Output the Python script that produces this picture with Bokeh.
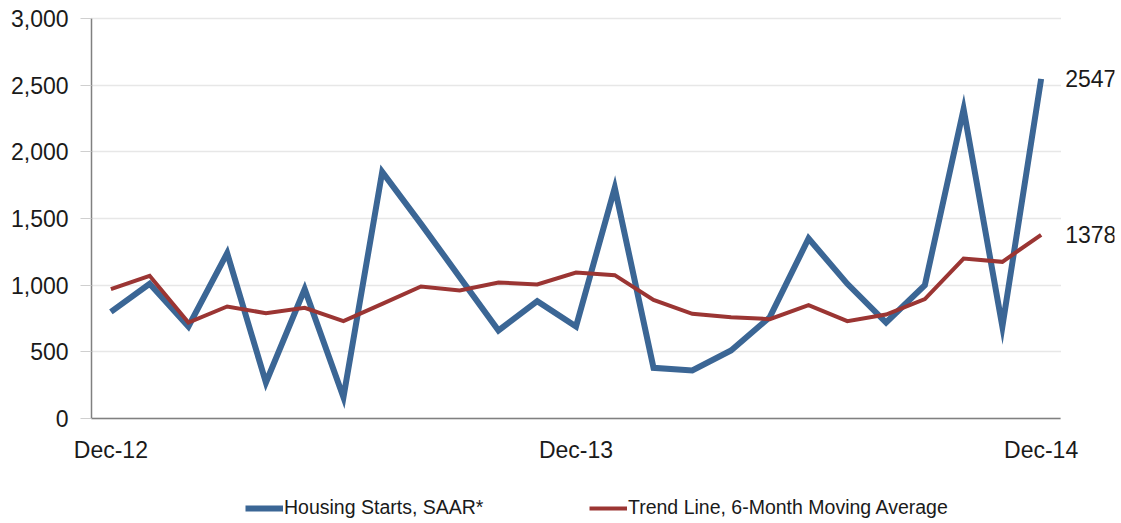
from bokeh.plotting import figure
from bokeh.models import (ColumnDataSource, FixedTicker, Legend, LegendItem, Label,
                          Range1d, NumeralTickFormatter, LinearAxis, Grid)
from bokeh.embed import file_html
from bokeh.resources import INLINE

months = ["Dec-12", "Jan-13", "Feb-13", "Mar-13", "Apr-13", "May-13", "Jun-13", "Jul-13",
          "Aug-13", "Sep-13", "Oct-13", "Nov-13", "Dec-13", "Jan-14", "Feb-14", "Mar-14",
          "Apr-14", "May-14", "Jun-14", "Jul-14", "Aug-14", "Sep-14", "Oct-14", "Nov-14",
          "Dec-14"]
housing_starts = [800, 1010, 690, 1240, 270, 970, 160, 1850, 1460, 1060, 660, 880, 690,
                  1730, 380, 360, 510, 760, 1350, 1010, 720, 1000, 2320, 690, 2547]
trend_line = [970, 1070, 720, 840, 790, 830, 730, 860, 990, 960, 1020, 1005, 1095, 1075,
              890, 785, 760, 745, 850, 730, 780, 895, 1200, 1175, 1378]
x_tick_labels = ["Dec-12", "Dec-13", "Dec-14"]
y_ticks = [0, 500, 1000, 1500, 2000, 2500, 3000]
series_names = ["Housing Starts, SAAR*", "Trend Line, 6-Month Moving Average"]

FONT = "Liberation Sans"
BLUE = "#3B6695"
RED = "#9B3533"
TXT = "#1a1a1a"

n = len(months)
idx = list(range(n))
src = ColumnDataSource(dict(x=idx, month=months, hs=housing_starts, tr=trend_line))

p = figure(width=1115, height=520, output_backend="svg", toolbar_location=None,
           x_range=Range1d(-2.745, 25.893), y_range=Range1d(-765, 3135),
           min_border_left=4, min_border_right=1, min_border_top=0,
           min_border_bottom=0, x_axis_location=None, y_axis_location=None)
p.outline_line_color = None
p.background_fill_color = "white"
p.border_fill_color = "white"
# drop default grids; a bounded grid is added below
p.center = [r for r in p.center if not isinstance(r, Grid)]

r_hs = p.line("x", "hs", source=src, line_color=BLUE, line_width=6, line_join="miter")
r_tr = p.line("x", "tr", source=src, line_color=RED, line_width=4, line_join="miter")

# x axis drawn at y = 0
xaxis = LinearAxis(fixed_location=0, bounds=(-0.5, n - 0.5),
                   ticker=FixedTicker(ticks=[months.index(m) for m in x_tick_labels]))
xaxis.major_label_overrides = {months.index(m): m for m in x_tick_labels}
xaxis.major_tick_line_color = None
xaxis.minor_tick_line_color = None
xaxis.axis_line_color = "#808080"
xaxis.axis_line_width = 1.5
xaxis.major_label_standoff = 12
xaxis.major_label_text_font = FONT
xaxis.major_label_text_font_size = "23px"
xaxis.major_label_text_color = TXT
p.add_layout(xaxis, "below")

# y axis drawn at the left edge of the data area
yaxis = LinearAxis(fixed_location=-0.5, bounds=(0, 3000),
                   ticker=FixedTicker(ticks=y_ticks),
                   formatter=NumeralTickFormatter(format="0,0"))
yaxis.major_tick_out = 11
yaxis.major_tick_in = 0
yaxis.major_tick_line_color = "#cfcfcf"
yaxis.minor_tick_line_color = None
yaxis.axis_line_color = "#808080"
yaxis.axis_line_width = 1.5
yaxis.major_label_standoff = 12
yaxis.major_label_text_font = FONT
yaxis.major_label_text_font_size = "23px"
yaxis.major_label_text_color = TXT
p.add_layout(yaxis, "left")

ygrid = Grid(dimension=1, ticker=yaxis.ticker, bounds=(0, 3000),
             cross_bounds=(-0.5, n - 0.5), grid_line_color="#cfcfcf",
             grid_line_dash="1 1", grid_line_width=1.5)
p.add_layout(ygrid)

# end labels
for vals in (housing_starts, trend_line):
    p.add_layout(Label(x=idx[-1], y=vals[-1], text=str(vals[-1]), x_offset=24,
                       text_baseline="middle", text_font=FONT, text_font_size="23px",
                       text_color=TXT))

legend = Legend(items=[LegendItem(label=series_names[0], renderers=[r_hs]),
                       LegendItem(label=series_names[1], renderers=[r_tr])],
                orientation="horizontal", location=(241, 1),
                padding=0, spacing=100, glyph_width=38, glyph_height=22,
                label_width=205, label_height=22, label_standoff=1,
                label_text_font=FONT, label_text_font_size="19.5px",
                label_text_color=TXT, border_line_color=None,
                background_fill_alpha=0)
p.add_layout(legend, "center")

open("out.html", "w").write(file_html(p, INLINE))
